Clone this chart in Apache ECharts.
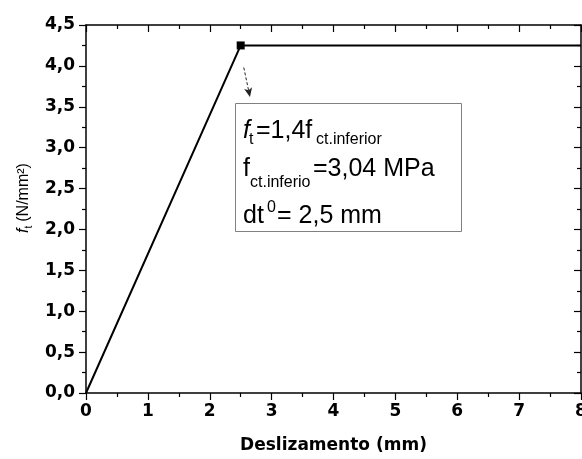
<!DOCTYPE html>
<html><head><meta charset="utf-8">
<script src="https://cdn.jsdelivr.net/npm/echarts@6/dist/echarts.min.js"></script>
<style>html,body{margin:0;padding:0;background:#fff}#c{width:582px;height:459px}</style>
</head><body><div id="c"></div>
<script>
// ---- data ----
const xValues = [0, 2.5, 8];
const yValues = [0, 4.25, 4.25];
const markedIndex = 1;            // point drawn with square marker
const xAxisRange = [0, 8, 1];     // min, max, interval
const yAxisRange = [0, 4.5, 0.5];
const arrowX = [2.55, 2.65];
const arrowY = [3.98, 3.62];
const xName = 'Deslizamento (mm)';

const chart = echarts.init(document.getElementById('c'), null, {renderer: 'canvas'});
const tickFont = {fontFamily: 'DejaVu Sans', fontWeight: 'bold', fontSize: 17, color: '#000'};
const comma = (v, d) => v.toFixed(d).replace('.', ',');
const lineSty = {lineStyle: {color: '#000', width: 1.5}};

const seriesData = xValues.map((x, i) => i === markedIndex
  ? {value: [x, yValues[i]], symbol: 'rect', symbolSize: 8}
  : {value: [x, yValues[i]], symbol: 'none'});

const SF = 'Liberation Sans, Arial, sans-serif';
function T(text, x, baseline, size, italic) {
  return {type: 'text', x: x, y: baseline - 0.35 * size, z: 20,
    style: {text: text, fontSize: size, fontFamily: SF, fontStyle: italic ? 'italic' : 'normal',
      fill: '#000', align: 'left', verticalAlign: 'middle'}};
}

const option = {
  animation: false,
  backgroundColor: '#fff',
  grid: {left: 86, right: 1, top: 25, bottom: 66, outerBoundsMode: 'none', containLabel: false},
  xAxis: [{
    type: 'value', min: xAxisRange[0], max: xAxisRange[1], interval: xAxisRange[2],
    axisLine: {show: true, onZero: false, ...lineSty},
    axisTick: {show: true, length: 7, lineStyle: {color: '#000', width: 1.2}},
    minorTick: {show: true, splitNumber: 2, length: 4, lineStyle: {color: '#000', width: 1.2}},
    splitLine: {show: false},
    axisLabel: {...tickFont, margin: 10, formatter: v => comma(v, 0)},
    name: xName, nameLocation: 'middle', nameGap: 44,
    nameTextStyle: {fontFamily: 'DejaVu Sans', fontWeight: 'bold', fontSize: 17, color: '#000'}
  }, {
    type: 'value', position: 'top', min: xAxisRange[0], max: xAxisRange[1], interval: xAxisRange[2],
    axisLine: {show: true, onZero: false, ...lineSty},
    axisTick: {show: true, inside: true, length: 7, lineStyle: {color: '#000', width: 1.2}},
    minorTick: {show: true, splitNumber: 2, length: 4, lineStyle: {color: '#000', width: 1.2}},
    splitLine: {show: false}, axisLabel: {show: false}
  }],
  yAxis: [{
    type: 'value', min: yAxisRange[0], max: yAxisRange[1], interval: yAxisRange[2],
    axisLine: {show: true, onZero: false, ...lineSty},
    axisTick: {show: true, length: 7, lineStyle: {color: '#000', width: 1.2}},
    minorTick: {show: true, splitNumber: 2, length: 4, lineStyle: {color: '#000', width: 1.2}},
    splitLine: {show: false},
    axisLabel: {...tickFont, margin: 11, formatter: v => comma(v, 1)},
    name: '{i|f}{s|t}{n|(N/mm²)}', nameLocation: 'middle', nameRotate: 90, nameGap: 46,
    nameTextStyle: {
      fontFamily: SF, fontSize: 16, color: '#000',
      padding: [0, 0, 0, 22],
      rich: {
        i: {fontFamily: SF, fontStyle: 'italic', fontSize: 16, lineHeight: 20, color: '#000'},
        s: {fontFamily: SF, fontSize: 10, lineHeight: 10, verticalAlign: 'bottom', color: '#000', padding: [0, 4, 0, 0]},
        n: {fontFamily: SF, fontSize: 16, lineHeight: 20, color: '#000'}
      }
    }
  }, {
    type: 'value', position: 'right', min: yAxisRange[0], max: yAxisRange[1], interval: yAxisRange[2],
    axisLine: {show: true, onZero: false, ...lineSty},
    axisTick: {show: true, inside: true, length: 7, lineStyle: {color: '#000', width: 1.2}},
    minorTick: {show: true, splitNumber: 2, length: 4, lineStyle: {color: '#000', width: 1.2}},
    splitLine: {show: false}, axisLabel: {show: false}
  }],
  series: [{
    type: 'line', xAxisIndex: 0, yAxisIndex: 0, data: seriesData,
    showSymbol: true, symbol: 'rect', symbolSize: 8,
    lineStyle: {color: '#000', width: 2}, itemStyle: {color: '#000'},
    markLine: {
      silent: true, symbol: ['none', 'arrow'], symbolSize: [6, 9],
      label: {show: false},
      lineStyle: {type: [3, 2], color: '#222', width: 1},
      data: [[{coord: [arrowX[0], arrowY[0]]}, {coord: [arrowX[1], arrowY[1]]}]]
    }
  }],
  graphic: [
    {type: 'rect', shape: {x: 235.5, y: 103.5, width: 226, height: 128}, z: 10,
      style: {fill: '#fff', stroke: '#808080', lineWidth: 1}},
    T('f', 243, 140, 25, true),
    T('t', 249, 145, 16, false),
    T('=1,4f', 256, 140, 25, false),
    T('ct.inferior', 316, 145, 16, false),
    T('f', 243, 178, 25, false),
    T('ct.inferio', 250, 188, 16, false),
    T('=3,04 MPa', 313, 178, 25, false),
    T('dt', 243, 225, 25, false),
    T('0', 267, 213, 16, false),
    T('= 2,5 mm', 277, 225, 25, false)
  ]
};
chart.setOption(option);
</script></body></html>
